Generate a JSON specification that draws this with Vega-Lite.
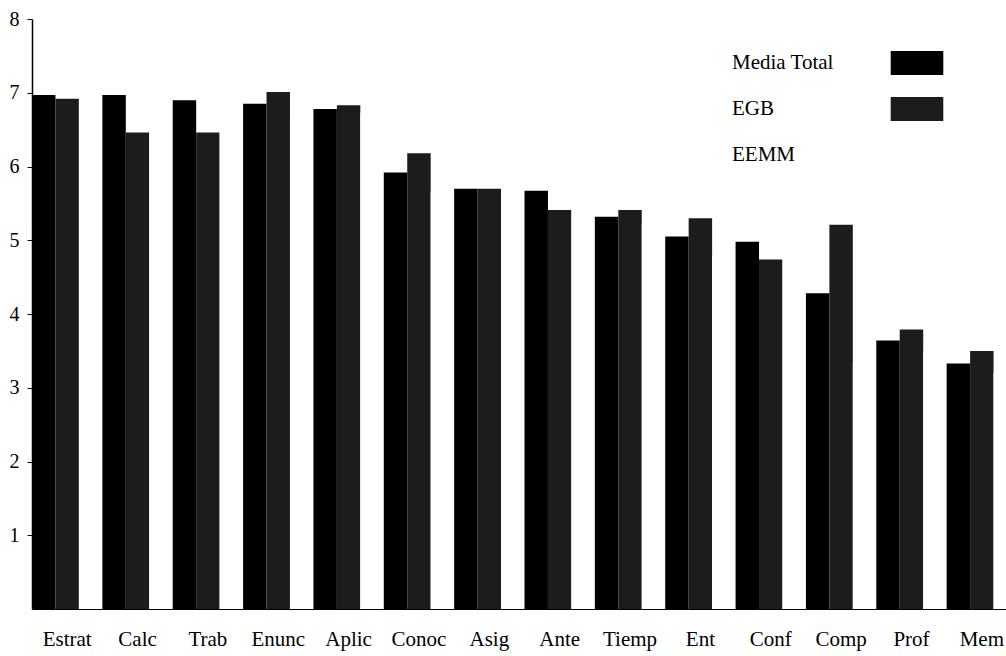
{
  "$schema": "https://vega.github.io/schema/vega-lite/v6.json",
  "autosize": "none",
  "width": 974,
  "height": 590,
  "padding": {"left": 32, "top": 19, "right": 0, "bottom": 47},
  "background": "white",
  "data": {
    "values": [
      {"item": "Estrat", "serie": "Media Total", "nota": 6.97},
      {"item": "Estrat", "serie": "EGB", "nota": 6.92},
      {"item": "Estrat", "serie": "EEMM", "nota": 7.02},
      {"item": "Calc", "serie": "Media Total", "nota": 6.97},
      {"item": "Calc", "serie": "EGB", "nota": 6.46},
      {"item": "Calc", "serie": "EEMM", "nota": 7.48},
      {"item": "Trab", "serie": "Media Total", "nota": 6.9},
      {"item": "Trab", "serie": "EGB", "nota": 6.46},
      {"item": "Trab", "serie": "EEMM", "nota": 7.34},
      {"item": "Enunc", "serie": "Media Total", "nota": 6.85},
      {"item": "Enunc", "serie": "EGB", "nota": 7.01},
      {"item": "Enunc", "serie": "EEMM", "nota": 6.69},
      {"item": "Aplic", "serie": "Media Total", "nota": 6.78},
      {"item": "Aplic", "serie": "EGB", "nota": 6.83},
      {"item": "Aplic", "serie": "EEMM", "nota": 6.73},
      {"item": "Conoc", "serie": "Media Total", "nota": 5.92},
      {"item": "Conoc", "serie": "EGB", "nota": 6.18},
      {"item": "Conoc", "serie": "EEMM", "nota": 5.66},
      {"item": "Asig", "serie": "Media Total", "nota": 5.7},
      {"item": "Asig", "serie": "EGB", "nota": 5.7},
      {"item": "Asig", "serie": "EEMM", "nota": 5.7},
      {"item": "Ante", "serie": "Media Total", "nota": 5.67},
      {"item": "Ante", "serie": "EGB", "nota": 5.41},
      {"item": "Ante", "serie": "EEMM", "nota": 5.93},
      {"item": "Tiemp", "serie": "Media Total", "nota": 5.32},
      {"item": "Tiemp", "serie": "EGB", "nota": 5.41},
      {"item": "Tiemp", "serie": "EEMM", "nota": 5.23},
      {"item": "Ent", "serie": "Media Total", "nota": 5.05},
      {"item": "Ent", "serie": "EGB", "nota": 5.3},
      {"item": "Ent", "serie": "EEMM", "nota": 4.8},
      {"item": "Conf", "serie": "Media Total", "nota": 4.98},
      {"item": "Conf", "serie": "EGB", "nota": 4.74},
      {"item": "Conf", "serie": "EEMM", "nota": 5.22},
      {"item": "Comp", "serie": "Media Total", "nota": 4.28},
      {"item": "Comp", "serie": "EGB", "nota": 5.21},
      {"item": "Comp", "serie": "EEMM", "nota": 3.35},
      {"item": "Prof", "serie": "Media Total", "nota": 3.64},
      {"item": "Prof", "serie": "EGB", "nota": 3.79},
      {"item": "Prof", "serie": "EEMM", "nota": 3.49},
      {"item": "Mem", "serie": "Media Total", "nota": 3.33},
      {"item": "Mem", "serie": "EGB", "nota": 3.5},
      {"item": "Mem", "serie": "EEMM", "nota": 3.2}
    ]
  },
  "mark": {"type": "bar", "strokeWidth": 0},
  "encoding": {
    "x": {
      "field": "item",
      "type": "nominal",
      "sort": null,
      "scale": {"paddingInner": 0, "paddingOuter": 0, "range": [0, 985]},
      "axis": {
        "title": null,
        "labelAngle": 0,
        "ticks": false,
        "domainColor": "black",
        "domainWidth": 1,
        "labelPadding": 19,
        "zindex": 1
      }
    },
    "xOffset": {
      "field": "serie",
      "type": "nominal",
      "sort": ["Media Total", "EGB", "EEMM"],
      "scale": {"paddingInner": 0, "paddingOuter": 0}
    },
    "y": {
      "field": "nota",
      "type": "quantitative",
      "scale": {"domain": [0, 8], "nice": false},
      "axis": {
        "title": null,
        "values": [1, 2, 3, 4, 5, 6, 7, 8],
        "grid": false,
        "tickSize": 5,
        "tickColor": "black",
        "domainColor": "black",
        "domainWidth": 1.5,
        "labelPadding": 8,
        "labelFontSize": 20
      }
    },
    "color": {
      "field": "serie",
      "type": "nominal",
      "sort": ["Media Total", "EGB", "EEMM"],
      "scale": {
        "domain": ["Media Total", "EGB", "EEMM"],
        "range": ["#000000", "#1c1c1c", "#ffffff"]
      },
      "legend": {
        "title": null,
        "orient": "none",
        "legendX": 865,
        "legendY": 24,
        "padding": 0,
        "symbolType": "M-1.315,-0.6H1.315V0.6H-1.315Z",
        "symbolSize": 1600,
        "symbolStrokeWidth": 0,
        "symbolOpacity": 1,
        "rowPadding": 14,
        "labelOffset": -205,
        "labelAlign": "left",
        "labelBaseline": "middle",
        "labelFontSize": 21,
        "labelLimit": 300
      }
    }
  },
  "config": {
    "view": {"stroke": null},
    "font": "Liberation Serif",
    "axis": {"labelFont": "Liberation Serif", "labelColor": "black", "labelFontSize": 21},
    "legend": {"labelFont": "Liberation Serif", "labelColor": "black"}
  }
}
